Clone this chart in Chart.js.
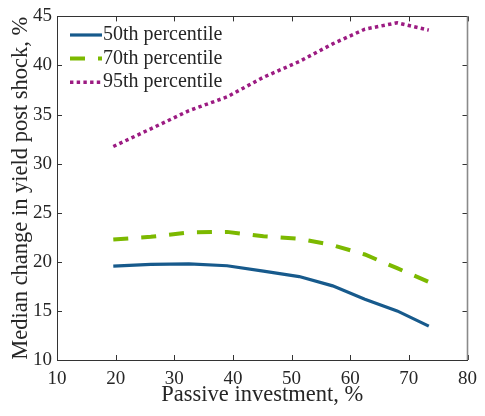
<!DOCTYPE html>
<html>
<head>
<meta charset="utf-8">
<script src="https://cdn.jsdelivr.net/npm/chart.js@4.4.1/dist/chart.umd.min.js"></script>
<style>
html,body{margin:0;padding:0;background:#fff;}
#wrap{width:485px;height:416px;}
</style>
</head>
<body>
<div id="wrap"><canvas id="c" width="485" height="416"></canvas></div>
<script>
// Data
const passiveInvestment = [19.6, 26, 32.5, 39, 45.2, 51.3, 57, 62.5, 68, 73.4];
const p50 = [19.57, 19.75, 19.8, 19.6, 19.05, 18.5, 17.55, 16.2, 15.0, 13.45];
const p70 = [22.27, 22.55, 23.0, 23.05, 22.6, 22.35, 21.7, 20.75, 19.35, 17.95];
const p95 = [31.75, 33.55, 35.4, 36.8, 38.8, 40.4, 42.2, 43.7, 44.35, 43.6];
const seriesLabels = ['50th percentile', '70th percentile', '95th percentile'];
const xTitle = 'Passive investment, %';
const yTitle = 'Median change in yield post shock, %';

const toXY = ys => ys.map((y, i) => ({x: passiveInvestment[i], y}));
const SERIF = "'Liberation Serif', serif";
const INK = '#262626';

const frameTicks = {
  id: 'frameTicks',
  afterDraw(chart) {
    const {ctx, chartArea: a, scales: {x, y}} = chart;
    ctx.save();
    ctx.lineWidth = 1;
    ctx.strokeStyle = '#333';
    const L = 5;
    ctx.beginPath();
    x.ticks.forEach(t => {
      const px = Math.round(x.getPixelForValue(t.value)) + 0.5;
      ctx.moveTo(px, a.bottom); ctx.lineTo(px, a.bottom - L);
      ctx.moveTo(px, a.top); ctx.lineTo(px, a.top + L);
    });
    y.ticks.forEach(t => {
      const py = Math.round(y.getPixelForValue(t.value)) + 0.5;
      ctx.moveTo(a.left, py); ctx.lineTo(a.left + L, py);
      ctx.moveTo(a.right, py); ctx.lineTo(a.right - L, py);
    });
    ctx.stroke();
    ctx.beginPath();
    ctx.moveTo(a.left, Math.round(a.top) + 0.5);
    ctx.lineTo(a.right, Math.round(a.top) + 0.5);
    ctx.stroke();
    ctx.strokeStyle = '#8a8a8a';
    ctx.lineWidth = 1.6;
    ctx.beginPath();
    ctx.moveTo(a.right, a.top);
    ctx.lineTo(a.right, a.bottom);
    ctx.stroke();
    ctx.restore();
  }
};

const innerLegend = {
  id: 'innerLegend',
  afterDatasetsDraw(chart) {
    const {ctx} = chart;
    ctx.save();
    chart.data.datasets.forEach((ds, i) => {
      const yy = 35 + i * 23.6;
      ctx.strokeStyle = ds.borderColor;
      ctx.lineWidth = ds.borderWidth;
      ctx.setLineDash(ds.borderDash || []);
      ctx.lineCap = 'butt';
      ctx.beginPath();
      ctx.moveTo(70, yy);
      ctx.lineTo(102, yy);
      ctx.stroke();
      ctx.setLineDash([]);
      ctx.fillStyle = INK;
      ctx.font = '20px ' + SERIF;
      ctx.textBaseline = 'middle';
      ctx.textAlign = 'left';
      ctx.fillText(ds.label, 103, yy);
    });
    ctx.restore();
  }
};

function draw() {
  new Chart(document.getElementById('c'), {
    type: 'line',
    data: {
      datasets: [
        {label: seriesLabels[0], data: toXY(p50), borderColor: '#175a8c', borderWidth: 3.2, pointRadius: 0, borderCapStyle: 'butt'},
        {label: seriesLabels[1], data: toXY(p70), borderColor: '#7cb900', borderWidth: 4, borderDash: [15, 13], pointRadius: 0, borderCapStyle: 'butt'},
        {label: seriesLabels[2], data: toXY(p95), borderColor: '#9c1b82', borderWidth: 3.5, borderDash: [3.4, 3.3], pointRadius: 0, borderCapStyle: 'butt'}
      ]
    },
    options: {
      responsive: false,
      animation: false,
      devicePixelRatio: 1,
      layout: {padding: {left: 0, right: 10, top: 14, bottom: 0}},
      plugins: {legend: {display: false}, tooltip: {enabled: false}},
      scales: {
        x: {
          type: 'linear', min: 10, max: 80,
          ticks: {stepSize: 10, color: INK, font: {family: SERIF, size: 19}, padding: 8, maxRotation: 0},
          grid: {display: true, drawOnChartArea: false, drawTicks: false},
          border: {display: true, color: '#333', width: 1},
          title: {display: true, text: xTitle, color: INK, font: {family: SERIF, size: 22.5}, padding: {top: 0, bottom: 7}},
          afterFit: s => { s.height = 56; }
        },
        y: {
          type: 'linear', min: 10, max: 45,
          ticks: {stepSize: 5, color: INK, font: {family: SERIF, size: 19}, padding: 5},
          grid: {display: true, drawOnChartArea: false, drawTicks: false},
          border: {display: true, color: '#333', width: 1},
          title: {display: true, text: yTitle, color: INK, font: {family: SERIF, size: 22.5}, padding: {top: 8, bottom: 0}},
          afterFit: s => { s.width = 57; }
        }
      }
    },
    plugins: [frameTicks, innerLegend]
  });
}
if (document.fonts && document.fonts.load) {
  Promise.all([document.fonts.load("19px 'Liberation Serif'"), document.fonts.load("22px 'Liberation Serif'")]).then(draw, draw);
} else { draw(); }
</script>
</body>
</html>
